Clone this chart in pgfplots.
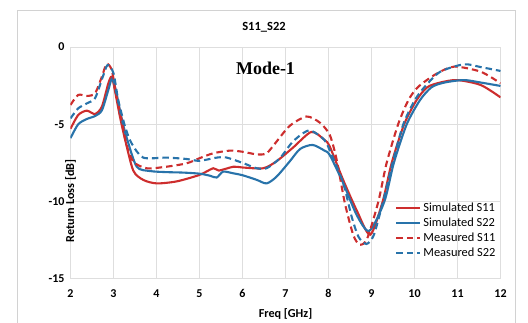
\documentclass[border=0pt]{standalone}
\usepackage{pgfplots}
\pgfplotsset{compat=1.18}
\usepackage{fontspec}
\setmainfont{Carlito}
\newfontfamily\timesfont{Liberation Serif}
\definecolor{cred}{RGB}{205,45,45}
\definecolor{cblue}{RGB}{40,115,170}
\definecolor{gridc}{RGB}{222,222,222}
\begin{document}
\begin{tikzpicture}
\useasboundingbox (-70.5pt,-43.3pt) rectangle (457.5pt,278.7pt);
\draw[gray!35, line width=0.8pt] (-53.5pt,-60pt) rectangle (444.5pt,268.7pt);
\begin{axis}[
  at={(0,0)}, anchor=south west,
  scale only axis, width=430pt, height=231.7pt,
  xmin=2, xmax=12, ymin=-15, ymax=0,
  xtick={2,3,...,12}, ytick={-15,-10,-5,0},
  grid=major, major grid style={gridc, line width=0.6pt},
  axis line style={gridc, line width=0.6pt},
  tick style={draw=none},
  /pgf/number format/assume math mode=true,
  ticklabel style={font=\fontsize{12}{14}\selectfont\bfseries},
  xticklabel style={yshift=-7pt},
  yticklabel style={xshift=-2.5pt},
  xlabel={Freq [GHz]}, ylabel={Return Loss [dB]},
  label style={font=\fontsize{12.2}{14}\selectfont\bfseries},
  x label style={at={(axis description cs:0.5,0)}, anchor=center, yshift=-35.5pt},
  y label style={at={(axis description cs:0,0.5)}, anchor=center, rotate=0, xshift=-38pt},
  legend style={draw=none, fill=none, at={(rel axis cs:0.755,0.335)}, anchor=north west,
    font=\fontsize{12.4}{14}\selectfont, row sep=0.8pt, inner sep=0pt,
    /tikz/every even column/.append style={column sep=0pt}},
  legend cell align=left,
  legend image code/.code={\draw[#1] (0pt,0pt) -- (24pt,0pt);},
  every axis plot/.append style={line width=2.1pt, smooth, tension=0.45},
]
\addplot[cred] coordinates {
(2.0,-5.3) (2.18,-4.4) (2.38,-4.12) (2.57,-4.34) (2.73,-3.86) (2.88,-2.35) (2.96,-1.92) (3.03,-2.78) (3.15,-4.51) (3.27,-6.0) (3.46,-8.0) (3.69,-8.6) (4.0,-8.83) (4.47,-8.7) (5.0,-8.28) (5.32,-7.85) (5.45,-8.0) (5.79,-7.75) (6.0,-7.8) (6.48,-7.85) (6.79,-7.4) (7.18,-6.5) (7.6,-5.5) (7.9,-6.0) (8.03,-6.45) (8.34,-8.6) (8.66,-10.6) (8.97,-12.15) (9.26,-10.0) (9.47,-7.5) (9.76,-5.0) (10.05,-3.43) (10.3,-2.6) (10.6,-2.3) (10.99,-2.14) (11.54,-2.46) (12,-3.26)
};
\addlegendentry{Simulated S11}
\addplot[cblue] coordinates {
(2.0,-5.9) (2.18,-5.0) (2.38,-4.66) (2.57,-4.47) (2.73,-4.1) (2.88,-2.78) (2.97,-2.03) (3.07,-3.0) (3.19,-4.62) (3.31,-5.9) (3.54,-7.75) (3.85,-8.03) (4.23,-8.1) (4.62,-8.13) (5.0,-8.2) (5.24,-8.33) (5.4,-8.45) (5.55,-8.07) (5.79,-8.18) (6.0,-8.3) (6.33,-8.6) (6.56,-8.83) (6.79,-8.4) (7.1,-7.4) (7.34,-6.6) (7.63,-6.34) (7.9,-6.7) (8.03,-7.0) (8.34,-8.8) (8.66,-10.9) (8.95,-11.9) (9.3,-10.0) (9.52,-7.5) (9.82,-5.0) (10.13,-3.43) (10.4,-2.6) (10.7,-2.3) (11.15,-2.14) (11.54,-2.3) (12,-2.52)
};
\addlegendentry{Simulated S22}
\addplot[cred, dash pattern=on 6.5pt off 4pt] coordinates {
(2.0,-3.75) (2.18,-3.1) (2.38,-3.17) (2.57,-3.0) (2.73,-1.92) (2.84,-1.1) (2.96,-1.5) (3.07,-3.2) (3.19,-4.73) (3.3,-6.3) (3.46,-7.42) (3.77,-7.85) (4.23,-7.75) (4.7,-7.53) (5.0,-7.2) (5.32,-6.88) (5.7,-6.71) (6.0,-6.78) (6.33,-6.95) (6.56,-6.88) (6.79,-6.13) (7.1,-5.1) (7.49,-4.5) (7.8,-4.9) (8.03,-5.7) (8.19,-7.3) (8.38,-10.1) (8.58,-12.2) (8.73,-12.8) (8.9,-12.4) (9.16,-10.0) (9.35,-7.53) (9.62,-5.0) (9.86,-3.43) (10.09,-2.57) (10.5,-1.75) (10.92,-1.27) (11.54,-1.6) (12,-2.35)
};
\addlegendentry{Measured S11}
\addplot[cblue, dash pattern=on 6.5pt off 4pt] coordinates {
(2.0,-4.62) (2.18,-3.97) (2.38,-3.65) (2.57,-3.32) (2.73,-2.1) (2.86,-1.17) (3.0,-1.7) (3.11,-3.43) (3.27,-5.16) (3.42,-6.23) (3.69,-7.16) (4.23,-7.16) (4.7,-7.25) (5.0,-7.37) (5.4,-7.16) (5.62,-7.15) (6.0,-7.5) (6.33,-7.85) (6.56,-7.85) (6.87,-7.2) (7.18,-6.1) (7.55,-5.4) (7.9,-6.0) (8.03,-6.7) (8.34,-8.8) (8.54,-11.0) (8.7,-12.3) (8.88,-12.75) (9.05,-12.2) (9.27,-10.0) (9.5,-7.4) (9.74,-5.0) (10.01,-3.43) (10.24,-2.57) (10.6,-1.6) (11.15,-1.12) (11.54,-1.3) (12,-1.55)
};
\addlegendentry{Measured S22}
\end{axis}
\node[font=\fontsize{12.5}{14}\selectfont\bfseries] at (193.5pt,251.5pt) {S11\_S22};
\node[font=\timesfont\fontsize{18}{20}\selectfont\bfseries] at (195pt,210.7pt) {Mode-1};
\end{tikzpicture}
\end{document}
